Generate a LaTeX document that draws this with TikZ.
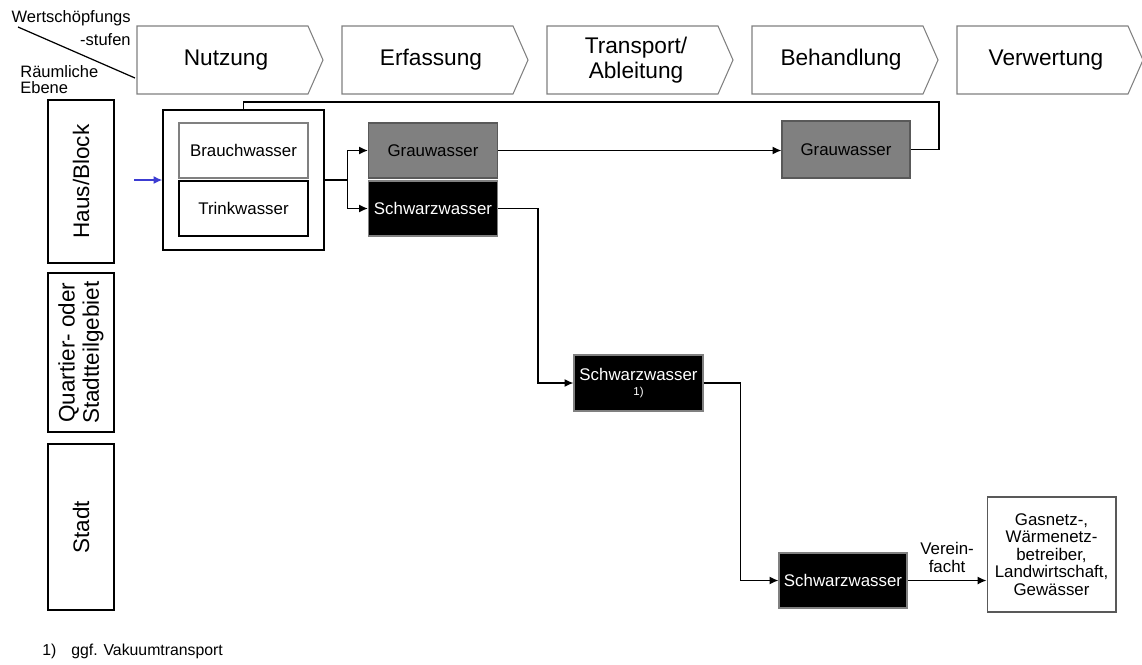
\documentclass[tikz,border=0pt]{standalone}
\usepackage{fontspec}
\setmainfont{Liberation Sans}
\usetikzlibrary{arrows.meta}
\definecolor{rahmengrau}{RGB}{128,128,128}
\definecolor{graufill}{RGB}{128,128,128}
\definecolor{graurand}{RGB}{89,89,89}
\definecolor{zulaufblau}{RGB}{60,60,210}
% one step of the value chain: chevron with its label
\newcommand{\wsstufe}[3]{%
  \draw[stufe] (#1,26) -- ++(171,0) -- ++(15,34) -- ++(-15,34) -- ++(-171,0) -- cycle;
  \node[stufetext] (#2) at (#1+89,60) {#3};
}
\begin{document}
\begin{tikzpicture}[x=0.02cm,y=-0.02cm,
  stufe/.style={draw=rahmengrau,line width=0.6pt,fill=white},
  stufetext/.style={font=\fontsize{12.9}{14.2}\selectfont,align=center},
  klein/.style={font=\fontsize{9.4}{10}\selectfont},
  ebene/.style={draw=black,line width=0.7pt,rotate=90,minimum height=1.32cm,
    font=\fontsize{12.8}{13.8}\selectfont,align=center,inner sep=0pt},
  kasten/.style={minimum width=2.58cm,minimum height=1.1cm,inner sep=0pt,
    font=\fontsize{9.6}{10}\selectfont,align=center},
  grau/.style={kasten,fill=graufill,draw=graurand,line width=0.7pt},
  schwarz/.style={kasten,fill=black,draw=rahmengrau,line width=0.7pt,text=white},
  weiss/.style={kasten,fill=white,draw=black,line width=0.7pt},
  fluss/.style={draw=black,line width=0.75pt},
  pfeil/.style={fluss,-{Latex[length=5pt,width=4.5pt]}},
]
\useasboundingbox (0,0) rectangle (1142,664);

% value-chain steps
\wsstufe{137}{nutzung}{Nutzung}
\wsstufe{342}{erfassung}{Erfassung}
\wsstufe{547}{transport}{Transport/\\Ableitung}
\wsstufe{752}{behandlung}{Behandlung}
\wsstufe{957}{verwertung}{Verwertung}

% corner header
\node[klein,anchor=east,inner sep=0pt] (ws1) at (131,18) {Wertschöpfungs};
\node[klein,anchor=east,inner sep=0pt] (ws2) at (131,40) {-stufen};
\node[klein,anchor=west,inner sep=0pt] (re1) at (20,72) {Räumliche};
\node[klein,anchor=west,inner sep=0pt] (re2) at (20,88) {Ebene};
\coordinate (diagA) at (18,27);
\coordinate (diagB) at (135,78);
\draw[line width=0.7pt] (diagA) -- (diagB);

% spatial levels
\node[ebene,minimum width=3.26cm] (haus) at (81,181.5) {Haus/Block};
\node[ebene,minimum width=3.18cm] (quartier) at (81,352.5) {Quartier- oder\\Stadtteilgebiet};
\node[ebene,minimum width=3.32cm] (stadt) at (81,527) {Stadt};

% use within the house
\node[draw=black,line width=0.75pt,minimum width=3.22cm,minimum height=2.8cm] (nutz) at (243.5,180) {};
\node[kasten,draw=rahmengrau,line width=0.7pt,fill=white] (brauch) at (243.5,150.5) {Brauchwasser};
\node[weiss] (trink) at (243.5,208.5) {Trinkwasser};

% separated flows
\node[grau] (grau1) at (433,150.5) {Grauwasser};
\node[schwarz] (schw1) at (433,208.5) {\raisebox{-4pt}{Schwarzwasser}};
\node[grau,minimum width=2.56cm,minimum height=1.14cm] (grau2) at (846,149.5) {Grauwasser};
\node[schwarz,minimum height=1.12cm] (schw2) at (638.5,383) {Schwarzwasser\\[-1pt]{\fontsize{6.5}{7}\selectfont 1)}};
\node[schwarz,minimum width=2.56cm] (schw3) at (843,580.5) {Schwarzwasser};
\node[weiss,minimum height=2.3cm,draw=graurand,line width=0.6pt,
  font=\fontsize{9.6}{10}\selectfont] (ziel) at (1051.5,554.5)
  {Gasnetz-,\\Wärmenetz-\\betreiber,\\Landwirtschaft,\\Gewässer};

% supply
\coordinate (zulauf) at (134,180);
\draw[draw=zulaufblau,line width=0.75pt,-{Latex[length=5pt,width=4.5pt]}] (zulauf) -- (nutz.west);

% split into grey and black water
\draw[fluss] (nutz.east) -- ++(23,0) coordinate (teil);
\draw[pfeil] (teil) |- (grau1.west);
\draw[pfeil] (teil) |- (schw1.west);
\draw[pfeil] (grau1.east) -- (grau1.east -| grau2.west);

% grey water returned to use
\coordinate (rueck) at (939,102);
\draw[fluss] (grau2.east) -| (rueck) -| (nutz.north);

% black water path down the levels
\draw[pfeil] (schw1.east) -- ++(40,0) |- (schw2.west);
\draw[pfeil] (schw2.east) -- ++(37,0) |- (schw3.west);
\draw[pfeil] (schw3.east) -- node[above,align=center,font=\fontsize{9.6}{10}\selectfont,yshift=1pt] (vereinf) {Verein-\\facht} (schw3.east -| ziel.west);

% footnote
\node[anchor=west,inner sep=0pt,font=\fontsize{9}{10}\selectfont] (fn1) at (42,651) {1)};
\node[anchor=west,inner sep=0pt,font=\fontsize{9}{10}\selectfont] (fn2) at (71,651) {ggf. Vakuumtransport};
\end{tikzpicture}
\end{document}
